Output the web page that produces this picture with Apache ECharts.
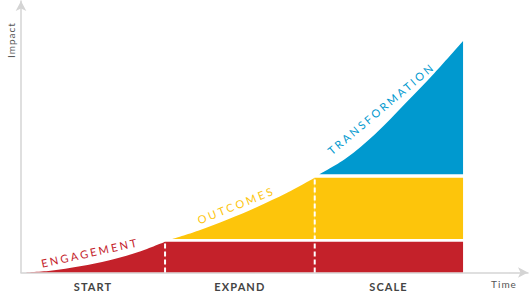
<!DOCTYPE html>
<html><head><meta charset="utf-8">
<script src="https://cdn.jsdelivr.net/npm/echarts@6/dist/echarts.min.js"></script>
<style>html,body{margin:0;padding:0;background:#fff}#c{width:530px;height:295px}</style>
</head><body><div id="c"></div>
<script>
// ---- data (x in "stage" units, y in impact units) ----
const stages = ['START', 'EXPAND', 'SCALE'];
const stageCenters = [0.488, 1.483, 2.49];
const stageBounds = [0.976, 1.99, 2.995];
const redCurve = [[0, 0], [0.2, 0.7], [0.4, 2.3], [0.6, 4.6], [0.8, 7.8], [0.976, 11.56]];
const redTop = 11.56;
const yellowCurve = [[1.025, 12.57], [1.2, 15.7], [1.4, 19.9], [1.6, 24.6], [1.8, 29.8], [1.99, 35.57]];
const yellowBase = 12.57;
const yellowTop = 35.57;
const blueCurve = [[2.02, 36.85], [2.2, 42.8], [2.4, 52.0], [2.6, 63.2], [2.8, 74.8], [2.995, 86.9]];
const blueBase = 36.85;
const curveLabels = ['ENGAGEMENT', 'OUTCOMES', 'TRANSFORMATION'];

const RED = '#c4212a', YELLOW = '#fdc50b', BLUE = '#0099cf';
const chart = echarts.init(document.getElementById('c'), null, {renderer: 'svg'});

function area(data, color, origin, smooth) {
  return {
    type: 'line', data: data, smooth: smooth ? 0.35 : false, symbol: 'none', silent: true,
    lineStyle: {width: 0, color: color}, areaStyle: {color: color, opacity: 1, origin: origin}, z: 2
  };
}
function dashed(x, top) {
  return {
    type: 'line', data: [[x, 0], [x, top]], symbol: 'none', silent: true, z: 5,
    lineStyle: {color: '#ffffff', width: 2, type: [5, 3]}
  };
}
const axisLineStyle = {color: '#d4d4d4', width: 1.5};
chart.setOption({
  animation: false,
  grid: {left: 21, right: 2, top: 1, bottom: 22.5, outerBoundsMode: 'none'},
  xAxis: {
    type: 'value', min: 0, max: 3.435,
    axisLine: {show: true, onZero: false, symbol: ['none', 'arrow'], symbolSize: [8, 10], lineStyle: axisLineStyle},
    axisTick: {show: false}, splitLine: {show: false},
    axisLabel: {
      show: true, customValues: stageCenters,
      formatter: function (v) {
        const i = stageCenters.findIndex(c => Math.abs(c - v) < 1e-3);
        return i >= 0 ? stages[i] : '';
      },
      margin: 8, color: '#444', fontFamily: 'Lato', fontWeight: 'bold', fontSize: 11,
      showMinLabel: true, showMaxLabel: true
    }
  },
  yAxis: {
    type: 'value', min: 0, max: 101.88,
    axisLine: {show: true, symbol: ['none', 'arrow'], symbolSize: [8, 10], lineStyle: axisLineStyle},
    axisTick: {show: false}, splitLine: {show: false}, axisLabel: {show: false}
  },
  series: [
    area(redCurve, RED, 0, true),
    area([[stageBounds[0], redTop], [stageBounds[2], redTop]], RED, 0, false),
    area(yellowCurve, YELLOW, yellowBase, true),
    area([[stageBounds[1], yellowTop], [stageBounds[2], yellowTop]], YELLOW, yellowBase, false),
    area(blueCurve, BLUE, blueBase, true),
    dashed(stageBounds[0], redTop),
    dashed(stageBounds[1], yellowTop)
  ],
  graphic: [
    {type: 'text', x: 11, y: 40, rotation: Math.PI / 2, style: {text: 'Impact', fill: '#555', font: '10px Lato', align: 'center', verticalAlign: 'middle'}},
    {type: 'text', x: 504, y: 284, style: {text: 'Time', fill: '#555', font: '10px Lato', align: 'center', verticalAlign: 'middle'}},
    {type: 'text', x: 90, y: 252.5, rotation: 12.6 * Math.PI / 180, style: {text: curveLabels[0], fill: RED, font: '11px Lato', align: 'center', verticalAlign: 'middle'}},
    {type: 'text', x: 236, y: 205, rotation: 21.9 * Math.PI / 180, style: {text: curveLabels[1], fill: YELLOW, font: '11px Lato', align: 'center', verticalAlign: 'middle'}},
    {type: 'text', x: 381, y: 108.5, rotation: 40 * Math.PI / 180, style: {text: curveLabels[2], fill: BLUE, font: '11px Lato', align: 'center', verticalAlign: 'middle'}}
  ]
});
const spacing = {ENGAGEMENT: '2.4px', OUTCOMES: '2.6px', TRANSFORMATION: '2.5px', START: '1.1px', EXPAND: '1.1px', SCALE: '1.1px', Impact: '1px', Time: '1px'};
function applySpacing() {
  document.querySelectorAll('#c svg text').forEach(t => {
    const s = t.textContent;
    if (spacing[s]) t.style.letterSpacing = spacing[s];
  });
}
chart.on('finished', applySpacing);
applySpacing();
</script></body></html>
